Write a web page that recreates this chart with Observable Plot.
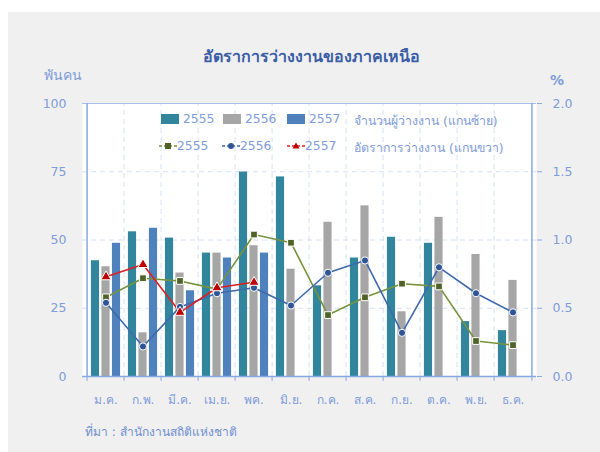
<!DOCTYPE html>
<html>
<head>
<meta charset="utf-8">
<script src="https://cdn.jsdelivr.net/npm/d3@7"></script>
<script src="https://cdn.jsdelivr.net/npm/@observablehq/plot@0.6"></script>
<style>
  body { margin: 0; background: #ffffff; font-family: Tahoma, "DejaVu Sans", "Noto Sans", sans-serif; }
  #wrap { position: relative; width: 600px; height: 452px; overflow: hidden; }
  #panel { position: absolute; left: 8px; top: 12px; width: 592px; height: 440px; background: #f0f0f0; }
  #chart { position: absolute; left: 0; top: 0; }
  .t { position: absolute; white-space: nowrap; color: #7f9cdb; }
  #title { left: 0; width: 622px; text-align: center; top: 44px; font-size: 16px; font-weight: bold; color: #3b5ea6; }
  .leg { position: absolute; display: flex; align-items: center; font-size: 12.3px; color: #7f9cdb; white-space: nowrap; }
  .sw { display: inline-block; width: 18px; height: 10px; margin-right: 4px; }
</style>
</head>
<body>
<div id="wrap">
  <div id="panel"></div>
  <div id="chart"></div>
  <div class="t" id="title">อัตราการว่างงานของภาคเหนือ</div>
  <div class="t" style="left:44px; top:64px; font-size:14px;">พันคน</div>
  <div class="t" style="left:550px; top:72px; font-size:14px; font-weight:bold;">%</div>
  <div class="t" id="source" style="left:85px; top:422px; font-size:12px; color:#6f8fd2;">ที่มา : สำนักงานสถิติแห่งชาติ</div>
  <div id="legend"></div>
</div>
<script>
const months = ["ม.ค.","ก.พ.","มี.ค.","เม.ย.","พค.","มิ.ย.","ก.ค.","ส.ค.","ก.ย.","ต.ค.","พ.ย.","ธ.ค."];
const years = ["2555","2556","2557"];
const unemp2555 = [42.4, 53.0, 50.7, 45.2, 74.9, 73.1, 33.2, 43.4, 51.0, 48.8, 20.1, 16.8];
const unemp2556 = [40.2, 16.0, 37.9, 45.2, 47.9, 39.3, 56.5, 62.5, 23.7, 58.3, 44.7, 35.2];
const unemp2557 = [48.8, 54.3, 31.4, 43.4, 45.2];
const rate2555 = [0.58, 0.72, 0.70, 0.64, 1.04, 0.98, 0.45, 0.58, 0.68, 0.66, 0.26, 0.23];
const rate2556 = [0.54, 0.22, 0.51, 0.61, 0.65, 0.52, 0.76, 0.85, 0.32, 0.80, 0.61, 0.47];
const rate2557 = [0.73, 0.82, 0.47, 0.65, 0.69];
const leftTicks = [0, 25, 50, 75, 100];
const rightTicks = [0.0, 0.5, 1.0, 1.5, 2.0];
const legendBarLabel = "จำนวนผู้ว่างงาน (แกนซ้าย)";
const legendLineLabel = "อัตราการว่างงาน (แกนขวา)";

const barColors = ["#31859c", "#a6a6a6", "#4f81bd"];
const lineColors = ["#77933c", "#3f6aab", "#e02020"];
const markColors = ["#4f6228", "#2f5597", "#c00000"];
const symbols = ["square", "circle", "triangle"];

const W = 600, H = 452, mL = 82, mR = 64, mT = 103, mB = 76;
const bw = (W - mL - mR) / months.length;
const rateFactor = 100 / 2; // right axis 0..2 maps onto left 0..100

const bars = [unemp2555, unemp2556, unemp2557].map(arr => arr.map((v, i) => ({month: months[i], v})));
const rates = [rate2555, rate2556, rate2557].map(arr => arr.map((v, i) => ({month: months[i], r: v * rateFactor})));
const offsets = [-10.5, 0, 10.5];
const barW = 9;
const inset = (bw - barW) / 2;

const marks = [
  Plot.frame({fill: "white", stroke: "none"}),
  Plot.ruleY([25, 50, 75], {stroke: "#d3e0f5", strokeDasharray: "5,4"}),
  Plot.ruleX(months.slice(1), {x: d => d, dx: -bw / 2, y1: 0, y2: 100, stroke: "#d3e0f5", strokeDasharray: "5,4"}),
  ...bars.map((b, k) => Plot.barY(b, {x: "month", y: "v", fill: barColors[k], dx: offsets[k], insetLeft: inset, insetRight: inset})),
  Plot.ruleY([100], {stroke: "#a9c1ea", strokeWidth: 1.2}),
  Plot.ruleX([months[0]], {x: d => d, dx: -bw / 2, y1: 0, y2: 100, stroke: "#86a8e3", strokeWidth: 1.5}),
  Plot.ruleX([months[months.length - 1]], {x: d => d, dx: bw / 2, y1: 0, y2: 100, stroke: "#86a8e3", strokeWidth: 1.5}),
  Plot.ruleY([0], {stroke: "#86a8e3", strokeWidth: 1.5}),
  Plot.ruleX(months, {x: d => d, dx: -bw / 2, y1: 0, y2: -1.8, stroke: "#86a8e3"}),
  Plot.ruleX([months[months.length - 1]], {x: d => d, dx: bw / 2, y1: 0, y2: -1.8, stroke: "#86a8e3"}),
  ...rates.map((r, k) => Plot.lineY(r, {x: "month", y: "r", stroke: lineColors[k], strokeWidth: 1.6})),
  ...rates.map((r, k) => Plot.dot(r, {x: "month", y: "r", symbol: symbols[k], fill: markColors[k], stroke: "white", strokeWidth: 1, r: k === 1 ? 3.6 : 3.8})),
  Plot.axisY({anchor: "left", ticks: leftTicks, tickSize: 0, tickPadding: 16, label: null, fontSize: 12.5}),
  Plot.axisY({anchor: "right", ticks: rightTicks.map(d => d * rateFactor), tickFormat: d => (d / rateFactor).toFixed(1), tickSize: 5, tickPadding: 11, label: null, fontSize: 12.5, stroke: "#86a8e3"}),
  Plot.axisX({tickSize: 0, tickPadding: 19, label: null, fontSize: 12})
];

const chart = Plot.plot({
  width: W, height: H,
  marginLeft: mL, marginRight: mR, marginTop: mT, marginBottom: mB,
  x: {domain: months, padding: 0},
  y: {domain: [0, 100]},
  style: {background: "transparent", color: "#7f9cdb", fontFamily: "Tahoma, 'DejaVu Sans', sans-serif"},
  marks
});
document.getElementById("chart").appendChild(chart);

// Legend
const legend = document.getElementById("legend");
function addLegendItem(x, y, html) {
  const d = document.createElement("div");
  d.className = "leg";
  d.style.left = x + "px";
  d.style.top = y + "px";
  d.innerHTML = html;
  legend.appendChild(d);
}
const barX = [161, 223, 287];
years.forEach((yr, k) => {
  addLegendItem(barX[k], 112, `<span class="sw" style="background:${barColors[k]}"></span><span>${yr}</span>`);
});
addLegendItem(354, 111, `<span>${legendBarLabel}</span>`);
const markerSvg = k => {
  const c = markColors[k], s = lineColors[k];
  let m;
  if (k === 0) m = `<rect x="6" y="2" width="6" height="6" fill="${c}"/>`;
  else if (k === 1) m = `<circle cx="9" cy="5" r="3" fill="${c}"/>`;
  else m = `<path d="M9,1.5 L12.5,7.5 L5.5,7.5 Z" fill="${c}"/>`;
  return `<svg width="18" height="10" style="margin-right:0"><line x1="0" y1="5" x2="18" y2="5" stroke="${s}" stroke-width="1.5" stroke-dasharray="3,2"/>${m}</svg>`;
};
const lineX = [159, 222, 287];
years.forEach((yr, k) => {
  addLegendItem(lineX[k], 139, `${markerSvg(k)}<span>${yr}</span>`);
});
addLegendItem(354, 138, `<span>${legendLineLabel}</span>`);
</script>
</body>
</html>
